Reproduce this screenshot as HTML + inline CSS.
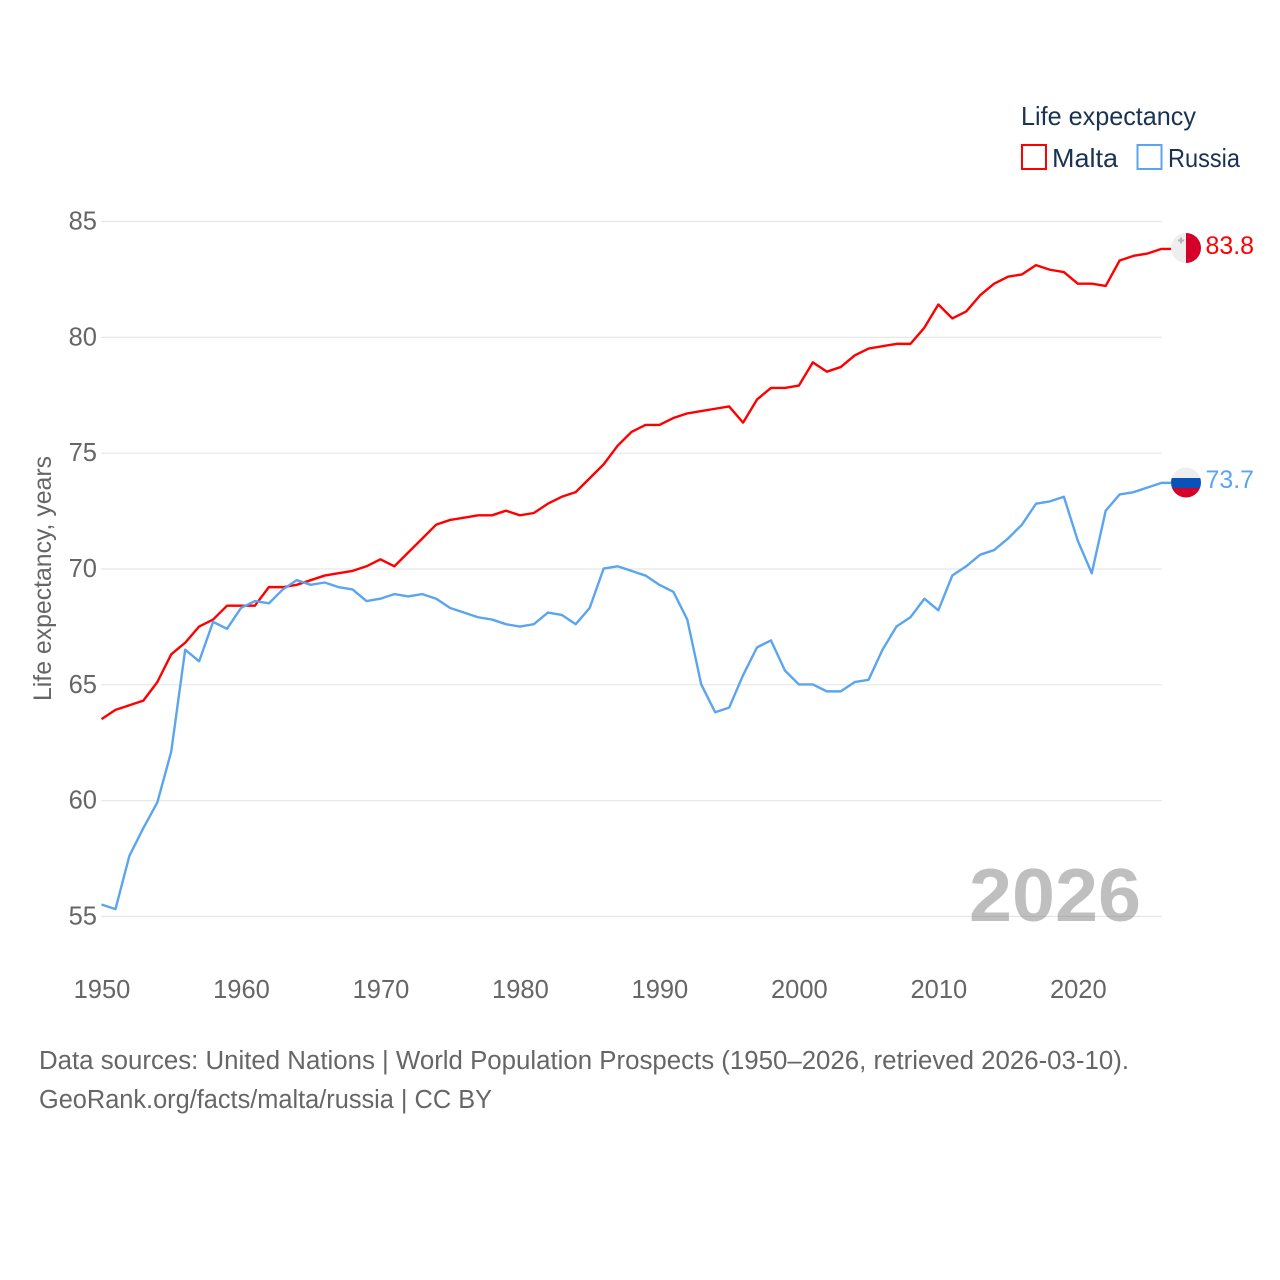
<!DOCTYPE html>
<html lang="en">
<head>
<meta charset="utf-8">
<title>Life expectancy: Malta and Russia</title>
<style>
html,body{margin:0;padding:0;background:#fff;width:1280px;height:1280px;overflow:hidden}
svg{display:block}
text{font-family:"Liberation Sans",sans-serif}
</style>
</head>
<body>
<svg id="chart" xmlns="http://www.w3.org/2000/svg" width="1280" height="1280" viewBox="0 0 1280 1280">
  <defs>
    <clipPath id="clip-malta"><circle cx="1186" cy="248" r="15"/></clipPath>
    <clipPath id="clip-russia"><circle cx="1186" cy="482.5" r="15"/></clipPath>
  </defs>
  <g id="grid"></g>
  <g id="y-ticks"></g>
  <g id="x-ticks"></g>
  <text x="969" y="921" font-size="75" font-weight="700" fill="#808080" fill-opacity="0.5" textLength="172" lengthAdjust="spacingAndGlyphs">2026</text>
  <path id="line-malta" fill="none" stroke="#ff0000" stroke-width="2.4" stroke-linejoin="round" transform="translate(0,-0.4)"/>
  <path id="line-russia" fill="none" stroke="#5ba5ee" stroke-width="2.4" stroke-linejoin="round" transform="translate(0,-0.4)"/>

  <g id="flag-malta" clip-path="url(#clip-malta)">
    <rect x="1171" y="233" width="15" height="30" fill="#eeeeee"/>
    <rect x="1186" y="233" width="15" height="30" fill="#d4002a"/>
    <rect x="1178" y="239.5" width="6" height="2" fill="#b5b5b5"/>
    <rect x="1180" y="237.5" width="2" height="6" fill="#b5b5b5"/>
  </g>
  <g id="flag-russia" clip-path="url(#clip-russia)">
    <rect x="1171" y="467" width="30" height="11" fill="#eeeeee"/>
    <rect x="1171" y="478" width="30" height="10" fill="#0a52b8"/>
    <rect x="1171" y="488" width="30" height="11" fill="#d6002a"/>
  </g>
  <text id="value-malta" x="1205.5" y="254" font-size="25" fill="#ff0000" textLength="48.5" lengthAdjust="spacingAndGlyphs"></text>
  <text id="value-russia" x="1205.5" y="488" font-size="25" fill="#5ba5ee" textLength="48.5" lengthAdjust="spacingAndGlyphs"></text>

  <text transform="translate(51,701) rotate(-90)" font-size="25" fill="#666666" textLength="245" lengthAdjust="spacingAndGlyphs">Life expectancy, years</text>

  <g>
    <text x="1021" y="125" font-size="26" fill="#1a3353" textLength="175" lengthAdjust="spacingAndGlyphs">Life expectancy</text>
    <rect x="1022" y="145" width="24" height="24" fill="none" stroke="#ff0000" stroke-width="2"/>
    <text x="1052" y="167" font-size="26" fill="#1a3353" textLength="66" lengthAdjust="spacingAndGlyphs">Malta</text>
    <rect x="1137.5" y="145" width="24" height="24" fill="none" stroke="#5ba5ee" stroke-width="2"/>
    <text x="1168" y="167" font-size="26" fill="#1a3353" textLength="72" lengthAdjust="spacingAndGlyphs">Russia</text>
  </g>

  <text x="39" y="1069" font-size="25.5" fill="#666666" textLength="1090" lengthAdjust="spacingAndGlyphs">Data sources: United Nations | World Population Prospects (1950–2026, retrieved 2026-03-10).</text>
  <text x="39" y="1108" font-size="25.5" fill="#666666" textLength="453" lengthAdjust="spacingAndGlyphs">GeoRank.org/facts/malta/russia | CC BY</text>
</svg>
<script>
const startYear = 1950;
const yTickValues = [55, 60, 65, 70, 75, 80, 85];
const xTickValues = [1950, 1960, 1970, 1980, 1990, 2000, 2010, 2020];
const maltaValues = [63.5,63.9,64.1,64.3,65.1,66.3,66.8,67.5,67.8,68.4,68.4,68.4,69.2,69.2,69.3,69.5,69.7,69.8,69.9,70.1,70.4,70.1,70.7,71.3,71.9,72.1,72.2,72.3,72.3,72.5,72.3,72.4,72.8,73.1,73.3,73.9,74.5,75.3,75.9,76.2,76.2,76.5,76.7,76.8,76.9,77.0,76.3,77.3,77.8,77.8,77.9,78.9,78.5,78.7,79.2,79.5,79.6,79.7,79.7,80.4,81.4,80.8,81.1,81.8,82.3,82.6,82.7,83.1,82.9,82.8,82.3,82.3,82.2,83.3,83.5,83.6,83.8];
const russiaValues = [55.5,55.3,57.6,58.8,59.9,62.1,66.5,66.0,67.7,67.4,68.3,68.6,68.5,69.1,69.5,69.3,69.4,69.2,69.1,68.6,68.7,68.9,68.8,68.9,68.7,68.3,68.1,67.9,67.8,67.6,67.5,67.6,68.1,68.0,67.6,68.3,70.0,70.1,69.9,69.7,69.3,69.0,67.8,65.0,63.8,64.0,65.4,66.6,66.9,65.6,65.0,65.0,64.7,64.7,65.1,65.2,66.5,67.5,67.9,68.7,68.2,69.7,70.1,70.6,70.8,71.3,71.9,72.8,72.9,73.1,71.2,69.8,72.5,73.2,73.3,73.5,73.7];

const NS = 'http://www.w3.org/2000/svg';
function xScale(year) { return 101.5 + (year - 1950) * (1161.5 - 101.5) / 76; }
function yScale(v) { return 916.5 - (v - 55) * (916.5 - 221.5) / 30; }

const gridGroup = document.getElementById('grid');
const yGroup = document.getElementById('y-ticks');
const xGroup = document.getElementById('x-ticks');

yTickValues.forEach(function (v) {
  const line = document.createElementNS(NS, 'line');
  
  
  line.setAttribute('x1', 101);
  line.setAttribute('x2', 1162);
  line.setAttribute('y1', yScale(v));
  line.setAttribute('y2', yScale(v));
  line.setAttribute('stroke', '#e6e6e6');
  line.setAttribute('stroke-width', 1.2);
  gridGroup.appendChild(line);

  const label = document.createElementNS(NS, 'text');
  
  
  label.setAttribute('x', 97);
  label.setAttribute('y', yScale(v) + 8);
  label.setAttribute('text-anchor', 'end');
  label.setAttribute('font-size', 25.5);
  label.setAttribute('fill', '#666666');
  label.textContent = v;
  yGroup.appendChild(label);
});

xTickValues.forEach(function (year) {
  const label = document.createElementNS(NS, 'text');
  
  
  label.setAttribute('x', xScale(year) + 0.5);
  label.setAttribute('y', 998);
  label.setAttribute('text-anchor', 'middle');
  label.setAttribute('font-size', 25.5);
  label.setAttribute('fill', '#666666');
  label.textContent = year;
  xGroup.appendChild(label);
});

function buildPath(values) {
  const pts = values.map(function (v, i) {
    return xScale(startYear + i).toFixed(2) + ' ' + yScale(v).toFixed(2);
  });
  return 'M' + pts.join('L') + 'H1171';
}

document.getElementById('line-malta').setAttribute('d', buildPath(maltaValues));
document.getElementById('line-russia').setAttribute('d', buildPath(russiaValues));
document.getElementById('value-malta').textContent = maltaValues[maltaValues.length - 1].toFixed(1);
document.getElementById('value-russia').textContent = russiaValues[russiaValues.length - 1].toFixed(1);
</script>
</body>
</html>
